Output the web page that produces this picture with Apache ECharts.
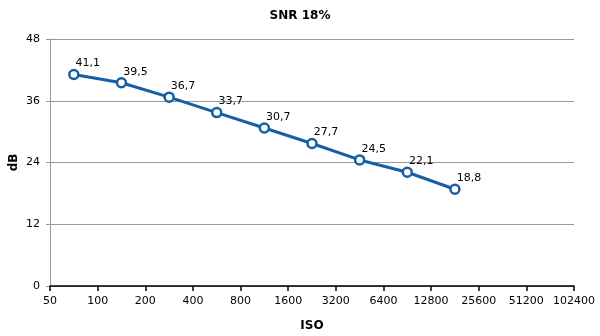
<!DOCTYPE html>
<html><head><meta charset="utf-8">
<script src="https://cdn.jsdelivr.net/npm/echarts@6/dist/echarts.min.js"></script>
<style>html,body{margin:0;padding:0;background:#fff}#c{width:600px;height:336px}</style>
</head><body><div id="c"></div>
<script>
var isoTicks = ['50','100','200','400','800','1600','3200','6400','12800','25600','51200','102400'];
var snrValues = [41.1, 39.5, 36.7, 33.7, 30.7, 27.7, 24.5, 22.1, 18.8, null, null];
var yTicks = {min: 0, max: 48, interval: 12};
var title = 'SNR 18%';

var bands = isoTicks.slice(0, -1).map(function (t, i) { return t + '–' + isoTicks[i + 1]; });
var font = 'DejaVu Sans';
var chart = echarts.init(document.getElementById('c'), null, {renderer: 'canvas'});
chart.setOption({
  animation: false,
  title: {text: title, left: 'center', top: 5, textStyle: {fontFamily: font, fontSize: 12, fontWeight: 'bold', color: '#000'}},
  grid: {left: 50, right: 26, top: 39, bottom: 50, containLabel: false, outerBoundsMode: 'none'},
  xAxis: [
    {type: 'category', data: isoTicks, boundaryGap: false, position: 'bottom',
     name: 'ISO', nameLocation: 'middle', nameGap: 34, nameMoveOverlap: false,
     nameTextStyle: {fontFamily: font, fontSize: 12, fontWeight: 'bold', color: '#000'},
     axisLine: {lineStyle: {color: '#000', width: 1.5}},
     axisTick: {show: true, length: 5, lineStyle: {color: '#000', width: 1.5}},
     axisLabel: {fontFamily: font, fontSize: 11, color: '#000', margin: 10, interval: 0},
     splitLine: {show: false}},
    {type: 'category', data: bands, boundaryGap: true, position: 'bottom', show: false}
  ],
  yAxis: {type: 'value', min: yTicks.min, max: yTicks.max, interval: yTicks.interval,
    name: 'dB', nameLocation: 'middle', nameGap: 30, nameMoveOverlap: false,
    nameTextStyle: {fontFamily: font, fontSize: 12, fontWeight: 'bold', color: '#000'},
    axisLine: {show: true, lineStyle: {color: '#999', width: 1}},
    axisTick: {show: true, length: 4, lineStyle: {color: '#999'}},
    axisLabel: {fontFamily: font, fontSize: 11, color: '#000', margin: 10},
    splitLine: {show: true, lineStyle: {color: '#999', width: 1}}},
  series: [{
    type: 'line', xAxisIndex: 1, data: snrValues,
    lineStyle: {color: '#165fa5', width: 3},
    symbol: 'circle', symbolSize: 9,
    itemStyle: {color: '#fff', borderColor: '#165fa5', borderWidth: 2.5},
    label: {show: true, position: 'right', distance: 5, offset: [-9, -11],
      fontFamily: font, fontSize: 11, color: '#000',
      formatter: function (p) { return String(p.value).replace('.', ','); }}
  }]
});
</script></body></html>
